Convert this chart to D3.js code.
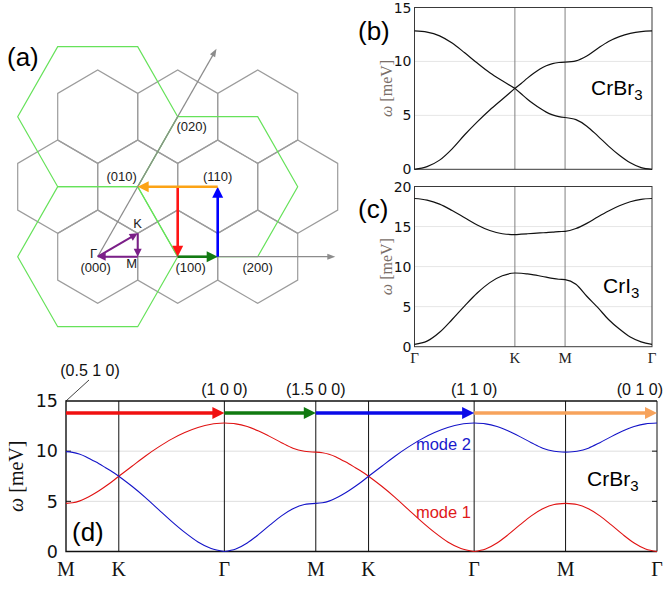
<!DOCTYPE html>
<html>
<head>
<meta charset="utf-8">
<script src="https://cdn.jsdelivr.net/npm/d3@7"></script>
<style>
body { margin: 0; background: #fff; }
svg { display: block; }
text { font-family: "Liberation Sans", Arial, sans-serif; }
.serif { font-family: "Liberation Serif", "DejaVu Serif", serif; }
.num { font-family: "DejaVu Sans", sans-serif; }
</style>
</head>
<body>
<svg width="670" height="591"></svg>
<script>
// ---------- data ----------
// sample positions along every path segment (fraction of segment)
const frac = [0, 0.125, 0.25, 0.375, 0.5, 0.625, 0.75, 0.875, 1];

// panels (b),(c): path Γ-K-M-Γ, segment lengths in units of |b|
const segBC = [0.5774, 0.2887, 0.5];
const labBC = ['Γ', 'K', 'M', 'Γ'];
// CrBr3 (b)
const brUpper = [
  [12.83, 12.72, 12.37, 11.7, 10.8, 9.85, 8.95, 8.2, 7.5],
  [7.5, 7.95, 8.45, 8.9, 9.3, 9.6, 9.8, 9.9, 9.93],
  [9.93, 10.05, 10.5, 11.2, 11.85, 12.3, 12.6, 12.77, 12.83]
];
const brLower = [
  [0, 0.25, 0.85, 1.9, 3.2, 4.4, 5.5, 6.5, 7.5],
  [7.5, 7.0, 6.5, 6.05, 5.65, 5.3, 5.05, 4.88, 4.8],
  [4.8, 4.6, 4.0, 3.1, 2.15, 1.3, 0.6, 0.15, 0]
];
// CrI3 (c)
const iUpper = [
  [18.5, 18.3, 17.8, 17.0, 16.1, 15.2, 14.5, 14.1, 14.0],
  [14.0, 14.05, 14.1, 14.15, 14.2, 14.25, 14.3, 14.37, 14.4],
  [14.4, 14.75, 15.4, 16.2, 16.95, 17.6, 18.1, 18.4, 18.5]
];
const iLower = [
  [0.3, 0.7, 1.8, 3.4, 5.1, 6.7, 8.0, 8.85, 9.2],
  [9.2, 9.17, 9.08, 8.97, 8.83, 8.68, 8.53, 8.42, 8.38],
  [8.38, 7.8, 6.3, 4.9, 3.4, 2.2, 1.2, 0.6, 0.3]
];

// panel (d): path M-K-Γ-M-K-Γ-M-Γ
const segD = [0.2887, 0.5774, 0.5, 0.2887, 0.5774, 0.5, 0.5];
const labD = ['M', 'K', 'Γ', 'M', 'K', 'Γ', 'M', 'Γ'];
const mode1 = [
  [4.8, 4.86, 5.02, 5.3, 5.65, 6.05, 6.5, 6.98, 7.5],
  [7.5, 8.5, 9.5, 10.4, 11.2, 11.85, 12.35, 12.68, 12.8],
  [12.8, 12.72, 12.45, 12.0, 11.45, 10.85, 10.3, 10.0, 9.9],
  [9.9, 9.85, 9.7, 9.45, 9.1, 8.75, 8.35, 7.95, 7.5],
  [7.5, 6.5, 5.4, 4.2, 3.0, 1.9, 0.95, 0.3, 0],
  [0, 0.25, 0.85, 1.7, 2.65, 3.55, 4.25, 4.68, 4.8],
  [4.8, 4.68, 4.25, 3.55, 2.65, 1.7, 0.85, 0.25, 0]
];
const mode2 = [
  [9.95, 9.88, 9.72, 9.45, 9.1, 8.75, 8.35, 7.95, 7.5],
  [7.5, 6.5, 5.4, 4.2, 3.0, 1.9, 0.95, 0.3, 0],
  [0, 0.25, 0.85, 1.7, 2.65, 3.55, 4.25, 4.68, 4.8],
  [4.8, 4.86, 5.02, 5.3, 5.65, 6.05, 6.5, 6.98, 7.5],
  [7.5, 8.5, 9.5, 10.4, 11.2, 11.85, 12.35, 12.68, 12.8],
  [12.8, 12.72, 12.45, 12.0, 11.45, 10.85, 10.3, 10.0, 9.9],
  [9.9, 10.0, 10.3, 10.85, 11.45, 12.0, 12.45, 12.72, 12.8]
];
// (hkl) labels over the path in (d): tick index and text
const hklIdx = [0, 2, 3, 5, 7];
const hklText = ['(0.5 1 0)', '(1 0 0)', '(1.5 0 0)', '(1 1 0)', '(0 1 0)'];
// coloured arrows in (d): from tick, to tick
const arrowFrom = [0, 2, 3, 5];
const arrowTo = [2, 3, 5, 7];
const arrowLevel = 13.8;

// panel (a): reciprocal lattice, coordinates (h,k)
const bzCells = [[-1, 2], [0, 2], [1, 2], [-1, 1], [0, 1], [1, 1], [2, 1], [0, 0], [1, 0], [2, 0]];
const zoneCells = [[-1, 2], [1, 1], [0, 0]];
const loopGKM = [[0, 0], [1 / 3, 1 / 3], [0.5, 0], [0, 0]];
const pathHKL = [[0.5, 1], [1, 0], [1.5, 0], [1, 1], [0, 1]];
const latLabels = ['(000)', '(100)', '(200)', '(010)', '(110)', '(020)'];
const latLabelAt = [[0, 0], [1, 0], [2, 0], [0, 1], [1, 1], [0, 2]];

// ---------- drawing ----------
const svg = d3.select('svg');
const colA = ['#ff1414', '#137a13', '#0000ff', '#fca315'];
const colD = ['#f01010', '#117a11', '#0a0ae8', '#f7a35c'];

const ticksOf = segs => [0, ...d3.cumsum(segs)];
const segPoints = (vals, ticks) => vals.map((row, i) =>
  row.map((v, j) => [ticks[i] + frac[j] * (ticks[i + 1] - ticks[i]), v]));

function arrow(g, p0, p1, color, w, hl, hw) {
  const dx = p1[0] - p0[0], dy = p1[1] - p0[1], L = Math.hypot(dx, dy);
  const ux = dx / L, uy = dy / L;
  const bx = p1[0] - ux * hl, by = p1[1] - uy * hl;
  g.append('line').attr('x1', p0[0]).attr('y1', p0[1]).attr('x2', bx + ux).attr('y2', by + uy)
    .attr('stroke', color).attr('stroke-width', w);
  g.append('path')
    .attr('d', d3.line()([p1, [bx - uy * hw / 2, by + ux * hw / 2], [bx + uy * hw / 2, by - ux * hw / 2]]) + 'Z')
    .attr('fill', color);
}

// ----- (a) -----
const ga = svg.append('g');
const ax = d3.scaleLinear().domain([0, 1]).range([97.7, 177.7]);
const ay = d3.scaleLinear().domain([0, Math.sqrt(3) / 2]).range([256.7, 186.7]);
const cart = ([h, k]) => [h + k / 2, k * Math.sqrt(3) / 2];
const pxA = ([h, k]) => { const c = cart([h, k]); return [ax(c[0]), ay(c[1])]; };
const hexPath = (hk, r, a0) => {
  const c = cart(hk);
  return d3.line()(d3.range(6).map(n => {
    const a = (a0 + 60 * n) * Math.PI / 180;
    return [ax(c[0] + r * Math.cos(a)), ay(c[1] + r * Math.sin(a))];
  })) + 'Z';
};

ga.selectAll('.bz').data(bzCells).join('path').attr('class', 'bz')
  .attr('d', d => hexPath(d, 1 / Math.sqrt(3), 30))
  .attr('fill', 'none').attr('stroke', '#9c9c9c').attr('stroke-width', 1.2);
ga.selectAll('.zone').data(zoneCells).join('path').attr('class', 'zone')
  .attr('d', d => hexPath(d, 1, 0))
  .attr('fill', 'none').attr('stroke', '#66e25a').attr('stroke-width', 1.2);

arrow(ga, pxA([0, 0]), pxA([2.97, 0]), '#8c8c8c', 1.2, 8, 6);
arrow(ga, pxA([0, 0]), pxA([0, 2.97]), '#8c8c8c', 1.2, 8, 6);

d3.pairs(pathHKL).forEach(([p, q], i) => arrow(ga, pxA(p), pxA(q), colA[i], 2.6, 11, 11));
d3.pairs(loopGKM).forEach(([p, q]) => arrow(ga, pxA(p), pxA(q), '#7b1f88', 2, 8, 8));

const latOff = [[-2, 15], [13, 15], [0, 15], [-16, -6], [0, -6], [14, 14]];
ga.selectAll('.lab').data(latLabels).join('text').attr('class', 'lab')
  .attr('x', (d, i) => pxA(latLabelAt[i])[0] + latOff[i][0])
  .attr('y', (d, i) => pxA(latLabelAt[i])[1] + latOff[i][1])
  .attr('text-anchor', 'middle').attr('font-size', 13).attr('fill', '#1a1a1a').text(d => d);
ga.append('text').attr('x', pxA([0, 0])[0] - 4).attr('y', pxA([0, 0])[1] + 1.5)
  .attr('text-anchor', 'middle').attr('font-size', 13).attr('fill', '#1a1a1a').text('Γ');
ga.append('text').attr('x', pxA([1 / 3, 1 / 3])[0]).attr('y', pxA([1 / 3, 1 / 3])[1] - 5)
  .attr('text-anchor', 'middle').attr('font-size', 13).attr('fill', '#1a1a1a').text('K');
ga.append('text').attr('x', pxA([0.5, 0])[0] - 6).attr('y', pxA([0.5, 0])[1] + 11)
  .attr('text-anchor', 'middle').attr('font-size', 13).attr('fill', '#1a1a1a').text('M');
ga.append('text').attr('x', 7).attr('y', 66).attr('font-size', 26).text('(a)');

// ----- (b), (c) -----
function bandPanel(opt) {
  const g = svg.append('g');
  const ticks = ticksOf(segBC);
  const x = d3.scaleLinear().domain([0, ticks[3]]).range([414.5, 652]);
  const y = d3.scaleLinear().domain([0, opt.ymax]).range([opt.y0, opt.y1]);
  const yt = d3.range(0, opt.ymax + 1, 5);

  g.selectAll('.grid').data(yt.slice(1, -1)).join('line')
    .attr('x1', x(0)).attr('x2', x(ticks[3])).attr('y1', y).attr('y2', y)
    .attr('stroke', '#e6e6e6').attr('stroke-width', 1);
  g.selectAll('.vl').data(ticks.slice(1, 3)).join('line')
    .attr('x1', x).attr('x2', x).attr('y1', y(0)).attr('y2', y(opt.ymax))
    .attr('stroke', '#808080').attr('stroke-width', 1);
  g.append('rect').attr('x', x(0)).attr('y', y(opt.ymax))
    .attr('width', x(ticks[3]) - x(0)).attr('height', y(0) - y(opt.ymax))
    .attr('fill', 'none').attr('stroke', '#3a3a3a').attr('stroke-width', 1);

  const line = d3.line().x(d => x(d[0])).y(d => y(d[1])).curve(d3.curveMonotoneX);
  const bands = opt.joined
    ? [opt.upper, opt.lower].map(b => segPoints(b, ticks).flat())
    : [...segPoints(opt.upper, ticks), ...segPoints(opt.lower, ticks)];
  g.selectAll('.band').data(bands).join('path')
    .attr('d', line).attr('fill', 'none').attr('stroke', '#111').attr('stroke-width', 1.2);

  g.selectAll('.yt').data(yt).join('text').attr('class', 'num')
    .attr('x', x(0) - 3).attr('y', y).attr('dy', '0.36em').attr('text-anchor', 'end')
    .attr('font-size', 14).attr('fill', '#111').text(d => d);
  if (opt.xlabels) {
    g.selectAll('.xt').data(ticks).join('text').attr('class', 'serif')
      .attr('x', x).attr('y', y(0) + 16).attr('text-anchor', 'middle')
      .attr('font-size', 15).attr('fill', '#222').text((d, i) => labBC[i]);
  }
  const yl = g.append('text').attr('class', 'serif')
    .attr('transform', `translate(392,${(y(0) + y(opt.ymax)) / 2}) rotate(-90)`)
    .attr('text-anchor', 'middle').attr('font-size', 16).attr('fill', '#7a6e68');
  yl.append('tspan').attr('font-style', 'italic').text('ω');
  yl.append('tspan').text(' [meV]');

  g.append('text').attr('x', 358).attr('y', opt.tagY).attr('font-size', 26).text(opt.tag);
  const mat = g.append('text').attr('x', opt.matX).attr('y', opt.matY).attr('font-size', 21);
  mat.append('tspan').text(opt.mat);
  mat.append('tspan').attr('font-size', 15).attr('dy', 5).text('3');
}

bandPanel({ ymax: 15, y0: 169.3, y1: 7.5, upper: brUpper, lower: brLower, joined: false,
  xlabels: false, tag: '(b)', tagY: 40, mat: 'CrBr', matX: 591, matY: 95 });
bandPanel({ ymax: 20, y0: 346.7, y1: 186.5, upper: iUpper, lower: iLower, joined: true,
  xlabels: true, tag: '(c)', tagY: 218, mat: 'CrI', matX: 603, matY: 293 });

// ----- (d) -----
const gd = svg.append('g');
const tD = ticksOf(segD);
const xD = d3.scaleLinear().domain([0, tD[tD.length - 1]]).range([66, 657]);
const yD = d3.scaleLinear().domain([0, 15]).range([551.5, 401]);

gd.selectAll('.grid').data([5, 10]).join('line')
  .attr('x1', xD(0)).attr('x2', xD(tD[7])).attr('y1', yD).attr('y2', yD)
  .attr('stroke', '#dedede').attr('stroke-width', 1);
gd.selectAll('.vl').data(tD.slice(1)).join('line')
  .attr('x1', xD).attr('x2', xD).attr('y1', yD(0)).attr('y2', yD(15))
  .attr('stroke', '#111').attr('stroke-width', 1);
gd.append('path')
  .attr('d', d3.line()([[xD(tD[7]), yD(15)], [xD(0), yD(15)], [xD(0), yD(0)], [xD(tD[7]), yD(0)]]))
  .attr('fill', 'none').attr('stroke', '#111').attr('stroke-width', 1.4);
gd.selectAll('.rt').data([5, 10]).join('line')
  .attr('x1', xD(tD[7]) - 5).attr('x2', xD(tD[7])).attr('y1', yD).attr('y2', yD)
  .attr('stroke', '#111').attr('stroke-width', 1);
gd.selectAll('.lt').data([5, 10]).join('line')
  .attr('x1', xD(0)).attr('x2', xD(0) + 5).attr('y1', yD).attr('y2', yD)
  .attr('stroke', '#111').attr('stroke-width', 1);

const lineD = d3.line().x(d => xD(d[0])).y(d => yD(d[1])).curve(d3.curveMonotoneX);
gd.selectAll('.m1').data(segPoints(mode1, tD)).join('path')
  .attr('d', lineD).attr('fill', 'none').attr('stroke', '#e01212').attr('stroke-width', 1.1);
gd.selectAll('.m2').data(segPoints(mode2, tD)).join('path')
  .attr('d', lineD).attr('fill', 'none').attr('stroke', '#1414c8').attr('stroke-width', 1.1);

arrowFrom.forEach((f, i) => arrow(gd, [xD(tD[f]), yD(arrowLevel)], [xD(tD[arrowTo[i]]), yD(arrowLevel)],
  colD[i], 3.4, 12, 12));

gd.selectAll('.yt').data([0, 5, 10, 15]).join('text').attr('class', 'num')
  .attr('x', xD(0) - 8).attr('y', yD).attr('dy', '0.36em').attr('text-anchor', 'end')
  .attr('font-size', 17.5).attr('fill', '#111').text(d => d);
gd.selectAll('.xt').data(tD).join('text').attr('class', 'serif')
  .attr('x', xD).attr('y', yD(0) + 24).attr('text-anchor', 'middle')
  .attr('font-size', 20).attr('fill', '#111').text((d, i) => labD[i]);
const ylD = gd.append('text').attr('class', 'serif')
  .attr('transform', `translate(23,${(yD(0) + yD(15)) / 2}) rotate(-90)`)
  .attr('text-anchor', 'middle').attr('font-size', 20).attr('fill', '#111');
ylD.append('tspan').attr('font-style', 'italic').text('ω');
ylD.append('tspan').text(' [meV]');

gd.selectAll('.hkl').data(hklText).join('text')
  .attr('x', (d, i) => i === 0 ? xD(tD[0]) + 24 : i === 4 ? xD(tD[7]) + 6 : xD(tD[hklIdx[i]]))
  .attr('y', (d, i) => i === 0 ? 376 : 395)
  .attr('text-anchor', (d, i) => i === 4 ? 'end' : 'middle')
  .attr('font-size', 16).attr('fill', '#111').text(d => d);
gd.append('line').attr('x1', xD(0)).attr('y1', yD(15)).attr('x2', xD(0) + 23).attr('y2', yD(15) - 21)
  .attr('stroke', '#111').attr('stroke-width', 0.8);

gd.append('text').attr('x', 471).attr('y', 450).attr('text-anchor', 'end')
  .attr('font-size', 16.5).attr('fill', '#1a1acc').text('mode 2');
gd.append('text').attr('x', 471).attr('y', 518).attr('text-anchor', 'end')
  .attr('font-size', 16.5).attr('fill', '#e01a1a').text('mode 1');
const matD = gd.append('text').attr('x', 587).attr('y', 486).attr('font-size', 21);
matD.append('tspan').text('CrBr');
matD.append('tspan').attr('font-size', 15).attr('dy', 5).text('3');
gd.append('text').attr('x', 72).attr('y', 541).attr('font-size', 26).text('(d)');
</script>
</body>
</html>
